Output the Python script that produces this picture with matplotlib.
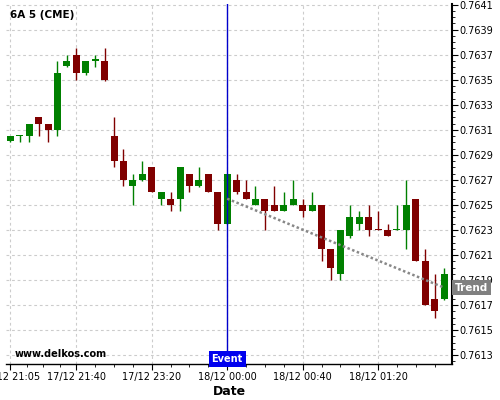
import matplotlib
matplotlib.use("Agg")
import matplotlib.pyplot as plt
from matplotlib.ticker import FixedLocator, MultipleLocator, FormatStrFormatter
import numpy as np

# ---- data ----
opens  = [0.76301, 0.76305, 0.76305, 0.76320, 0.76315, 0.76310, 0.76361, 0.76370, 0.76355, 0.76365,
          0.76365, 0.76305, 0.76285, 0.76265, 0.76270, 0.76280, 0.76255, 0.76255, 0.76255, 0.76275,
          0.76265, 0.76275, 0.76260, 0.76235, 0.76270, 0.76260, 0.76250, 0.76255, 0.76250, 0.76245,
          0.76250, 0.76250, 0.76245, 0.76250, 0.76215, 0.76195, 0.76225, 0.76235, 0.76240, 0.76231,
          0.76230, 0.76230, 0.76230, 0.76255, 0.76205, 0.76175, 0.76175]
highs  = [0.76305, 0.76306, 0.76315, 0.76320, 0.76315, 0.76365, 0.76370, 0.76375, 0.76365, 0.76370,
          0.76375, 0.76320, 0.76295, 0.76275, 0.76285, 0.76280, 0.76260, 0.76260, 0.76280, 0.76275,
          0.76280, 0.76275, 0.76260, 0.76275, 0.76275, 0.76270, 0.76265, 0.76255, 0.76265, 0.76260,
          0.76270, 0.76255, 0.76260, 0.76250, 0.76215, 0.76230, 0.76250, 0.76245, 0.76250, 0.76245,
          0.76235, 0.76250, 0.76270, 0.76255, 0.76215, 0.76195, 0.76200]
lows   = [0.76300, 0.76300, 0.76300, 0.76305, 0.76300, 0.76305, 0.76360, 0.76350, 0.76354, 0.76360,
          0.76349, 0.76280, 0.76265, 0.76250, 0.76269, 0.76260, 0.76250, 0.76245, 0.76245, 0.76260,
          0.76264, 0.76260, 0.76230, 0.76235, 0.76259, 0.76255, 0.76250, 0.76230, 0.76245, 0.76245,
          0.76250, 0.76240, 0.76245, 0.76205, 0.76190, 0.76190, 0.76224, 0.76230, 0.76225, 0.76230,
          0.76225, 0.76230, 0.76215, 0.76205, 0.76170, 0.76160, 0.76174]
closes = [0.76305, 0.76306, 0.76315, 0.76315, 0.76310, 0.76355, 0.76365, 0.76355, 0.76365, 0.76366,
          0.76350, 0.76285, 0.76270, 0.76270, 0.76275, 0.76260, 0.76260, 0.76250, 0.76280, 0.76265,
          0.76270, 0.76260, 0.76235, 0.76275, 0.76260, 0.76255, 0.76255, 0.76245, 0.76245, 0.76250,
          0.76255, 0.76245, 0.76250, 0.76215, 0.76200, 0.76230, 0.76240, 0.76240, 0.76230, 0.76230,
          0.76225, 0.76231, 0.76250, 0.76205, 0.76170, 0.76165, 0.76195]

tick_index  = [0, 7, 15, 23, 31, 39]
tick_labels = ["17/12 21:05", "17/12 21:40", "17/12 23:20", "18/12 00:00", "18/12 00:40", "18/12 01:20"]
event_index = 23
trend_start = (23, 0.76255)
trend_end   = (46, 0.76184)

title = "6A 5 (CME)"

# ---- figure ----
fig = plt.figure(figsize=(5, 4), dpi=100)
ax = fig.add_axes([0.012, 0.09, 0.892, 0.90])

UP = "#008000"
DOWN = "#800000"
x = np.arange(len(opens))
o = np.array(opens); c = np.array(closes); h = np.array(highs); l = np.array(lows)
colors = [UP if cc >= oo else DOWN for oo, cc in zip(o, c)]

ax.vlines(x, l, h, colors=colors, linewidth=1.0, zorder=3)
bottoms = np.minimum(o, c)
heights = np.maximum(np.abs(c - o), 0.000012)
ax.bar(x, heights, bottom=bottoms, width=0.74, color=colors, edgecolor=colors, linewidth=0, zorder=4)

ax.set_xlim(-0.46, 46.84)
ax.set_ylim(0.76123, 0.764105)

# grid
ax.xaxis.set_major_locator(FixedLocator(tick_index))
ax.set_xticklabels(tick_labels)
minor = [1.75, 3.5, 5.25, 9, 11, 13, 17, 19, 21, 25, 27, 29, 33, 35, 37, 41, 43, 45]
ax.xaxis.set_minor_locator(FixedLocator(minor))
ax.yaxis.tick_right()
ax.yaxis.set_minor_locator(MultipleLocator(0.00005))
ax.set_yticks(np.round(np.arange(0.7613, 0.76411, 0.0002), 4))
ax.yaxis.set_major_formatter(FormatStrFormatter("%.4f"))
ax.grid(True, which="major", color="#cccccc", linestyle=(0, (2.5, 2.5)), linewidth=0.8, zorder=0)
ax.set_axisbelow(True)

for s in ["top", "left"]:
    ax.spines[s].set_visible(False)
ax.spines["right"].set_linewidth(1.5)
ax.spines["bottom"].set_linewidth(1.0)

ax.tick_params(axis="y", which="major", length=4, labelsize=7, pad=1, colors="black")
ax.tick_params(axis="y", which="minor", length=2)
ax.tick_params(axis="x", which="major", length=4, labelsize=7, pad=2)
ax.tick_params(axis="x", which="minor", length=2)

ax.set_xlabel("Date", fontsize=9, fontweight="bold", labelpad=2)

# event line & label
ax.axvline(event_index, color="#0000cc", linewidth=1.0, zorder=5)
ax.text(event_index, 0.0, "Event", transform=ax.get_xaxis_transform(), ha="center", va="bottom",
        color="white", fontsize=7, fontweight="bold", zorder=6,
        bbox=dict(boxstyle="square,pad=0.3", facecolor="#0000ee", edgecolor="none"))

# trend line & label
ax.plot([trend_start[0], trend_end[0]], [trend_start[1], trend_end[1]], color="#888888",
        linewidth=1.8, linestyle=(0, (1, 1)), zorder=5)
ax.annotate("Trend", xy=(1.0, trend_end[1]), xycoords=("axes fraction", "data"),
            xytext=(2, 0), textcoords="offset points", ha="left", va="center",
            color="white", fontsize=7.5, fontweight="bold", zorder=10, annotation_clip=False,
            bbox=dict(boxstyle="square,pad=0.25", facecolor="#808080", edgecolor="none"))

fig.text(0.02, 1 - 15 / 400, title, fontsize=7.5, fontweight="bold", va="center", ha="left")
fig.text(0.03, 1 - 354 / 400, "www.delkos.com", fontsize=7, fontweight="bold", va="center", ha="left")

fig.savefig("out.png", dpi=100)
